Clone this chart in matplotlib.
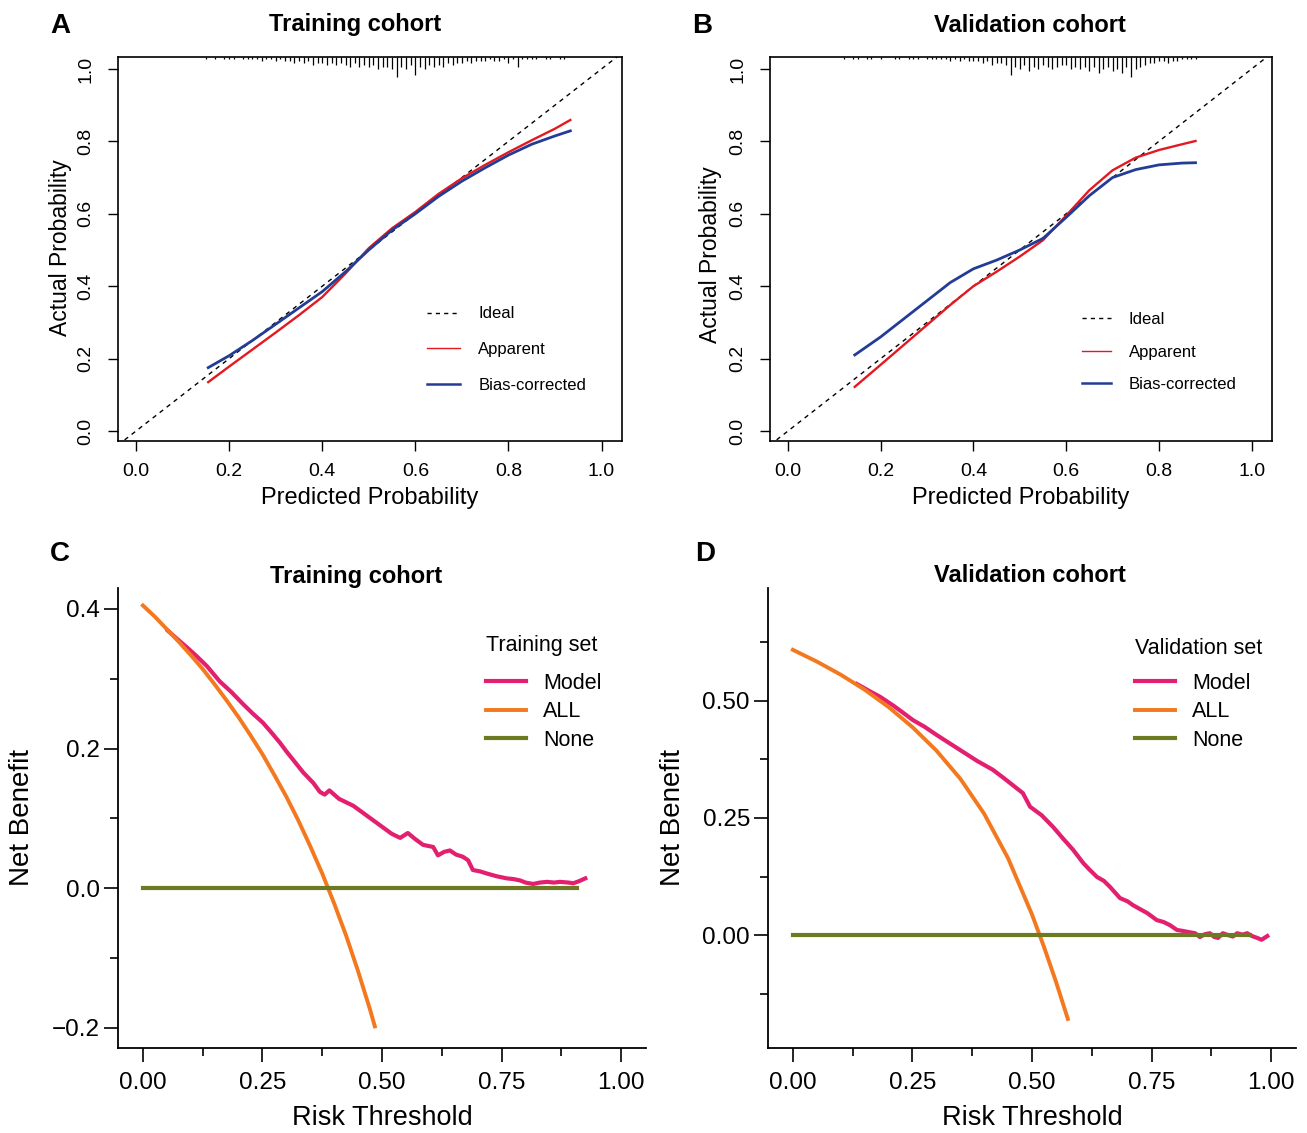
import matplotlib

matplotlib.use("Agg")
import matplotlib.pyplot as plt  # noqa: E402
import numpy as np  # noqa: E402
from matplotlib.lines import Line2D  # noqa: E402

plt.rcParams["font.family"] = ["Liberation Sans", "DejaVu Sans"]

W, H = 1307, 1133

# ---------------- calibration curves (panels A, B) ----------------
train_cal_x = [0.155, 0.20, 0.25, 0.30, 0.35, 0.40, 0.45, 0.50, 0.55, 0.60,
               0.65, 0.70, 0.75, 0.80, 0.85, 0.90, 0.933]
train_apparent = [0.135, 0.178, 0.225, 0.272, 0.320, 0.370, 0.435, 0.505, 0.560, 0.605,
                  0.655, 0.698, 0.735, 0.770, 0.803, 0.835, 0.859]
train_bias_corr = [0.175, 0.208, 0.250, 0.295, 0.340, 0.385, 0.440, 0.500, 0.555, 0.600,
                   0.648, 0.690, 0.727, 0.762, 0.792, 0.815, 0.829]

valid_cal_x = [0.144, 0.20, 0.25, 0.30, 0.35, 0.40, 0.45, 0.50, 0.55, 0.60,
               0.65, 0.70, 0.75, 0.80, 0.85, 0.879]
valid_apparent = [0.122, 0.183, 0.238, 0.293, 0.348, 0.400, 0.440, 0.482, 0.527, 0.595,
                  0.665, 0.720, 0.755, 0.776, 0.792, 0.801]
valid_bias_corr = [0.210, 0.260, 0.310, 0.360, 0.410, 0.448, 0.472, 0.500, 0.532, 0.590,
                   0.650, 0.700, 0.722, 0.735, 0.740, 0.741]

# rug of predicted values along the top (bins of 0.01)
train_rug_start = 0.15
train_rug_counts = [1, 0, 1, 0, 1, 1, 1, 0, 1, 1, 1, 1, 2, 1, 1, 2, 1, 2, 2, 3,
                    2, 3, 2, 4, 3, 3, 4, 3, 4, 3, 4, 5, 3, 5, 4, 5, 4, 6, 5, 5,
                    6, 10, 5, 6, 4, 9, 5, 6, 4, 5, 4, 5, 3, 4, 3, 3, 2, 3, 2, 2,
                    2, 1, 2, 2, 1, 3, 1, 5, 1, 1, 1, 1, 0, 1, 1, 0, 1, 1]
valid_rug_start = 0.12
valid_rug_counts = [1, 0, 1, 1, 0, 1, 1, 0, 1, 0, 0, 1, 1, 0, 1, 1, 1, 0, 1, 1,
                    1, 1, 1, 2, 1, 2, 1, 2, 2, 2, 3, 2, 4, 3, 3, 4, 9, 5, 6, 4,
                    7, 5, 6, 4, 5, 6, 5, 4, 4, 6, 5, 6, 5, 7, 5, 8, 6, 5, 7, 6,
                    8, 5, 10, 6, 5, 4, 3, 3, 2, 2, 3, 2, 2, 1, 1, 1, 1]

# ---------------- decision curves (panels C, D) ----------------
train_t_model = [0.052, 0.070, 0.092, 0.113, 0.134, 0.161, 0.185, 0.209, 0.230, 0.251,
                 0.270, 0.287, 0.300, 0.314, 0.335, 0.356, 0.370, 0.380, 0.390, 0.410,
                 0.440, 0.470, 0.500, 0.520, 0.538, 0.554, 0.570, 0.586, 0.607, 0.617,
                 0.630, 0.642, 0.655, 0.669, 0.680, 0.690, 0.705, 0.719, 0.740, 0.761,
                 0.775, 0.789, 0.800, 0.816, 0.830, 0.845, 0.860, 0.872, 0.890, 0.900,
                 0.912, 0.925]
train_nb_model = [0.369, 0.358, 0.345, 0.332, 0.318, 0.296, 0.281, 0.264, 0.250, 0.237,
                  0.222, 0.208, 0.196, 0.184, 0.166, 0.151, 0.138, 0.134, 0.140, 0.128,
                  0.118, 0.103, 0.088, 0.078, 0.072, 0.079, 0.070, 0.062, 0.059, 0.047,
                  0.052, 0.054, 0.048, 0.045, 0.040, 0.026, 0.024, 0.021, 0.017, 0.014,
                  0.013, 0.011, 0.008, 0.006, 0.008, 0.009, 0.008, 0.009, 0.008, 0.007,
                  0.010, 0.014]
train_t_all = [0.000, 0.025, 0.050, 0.075, 0.100, 0.125, 0.150, 0.175, 0.200, 0.225,
               0.250, 0.275, 0.300, 0.325, 0.350, 0.375, 0.400, 0.425, 0.450, 0.475,
               0.485]
train_nb_all = [0.405, 0.389, 0.371, 0.353, 0.334, 0.314, 0.292, 0.269, 0.245, 0.219,
                0.192, 0.162, 0.131, 0.097, 0.060, 0.021, -0.022, -0.068, -0.119, -0.174,
                -0.198]
train_t_none = [0.0, 0.908]
train_nb_none = [0.0, 0.0]

valid_t_model = [0.134, 0.160, 0.182, 0.210, 0.230, 0.251, 0.275, 0.301, 0.330, 0.356,
                 0.385, 0.418, 0.440, 0.460, 0.481, 0.496, 0.520, 0.544, 0.565, 0.586,
                 0.607, 0.620, 0.636, 0.650, 0.663, 0.684, 0.700, 0.711, 0.725, 0.741,
                 0.761, 0.775, 0.789, 0.803, 0.815, 0.830, 0.841, 0.851, 0.862, 0.872,
                 0.881, 0.889, 0.899, 0.910, 0.920, 0.929, 0.940, 0.950, 0.960, 0.971,
                 0.980, 0.992]
valid_nb_model = [0.536, 0.521, 0.509, 0.490, 0.475, 0.459, 0.445, 0.427, 0.408, 0.391,
                  0.372, 0.353, 0.336, 0.320, 0.303, 0.274, 0.256, 0.231, 0.206, 0.182,
                  0.154, 0.140, 0.124, 0.116, 0.103, 0.079, 0.072, 0.064, 0.056, 0.047,
                  0.032, 0.028, 0.021, 0.011, 0.009, 0.006, 0.004, -0.004, 0.002, 0.004,
                  -0.004, -0.006, 0.004, 0.000, -0.003, 0.004, 0.001, 0.004, -0.002, -0.006,
                  -0.010, -0.002]
valid_t_all = [0.000, 0.050, 0.100, 0.150, 0.200, 0.250, 0.300, 0.350, 0.400, 0.450,
               0.500, 0.525, 0.550, 0.575]
valid_nb_all = [0.609, 0.584, 0.556, 0.524, 0.487, 0.444, 0.394, 0.334, 0.259, 0.164,
                0.044, -0.025, -0.099, -0.179]
valid_t_none = [0.0, 0.956]
valid_nb_none = [0.0, 0.0]

RED = "#E3191F"
BLUE = "#233D96"
PINK = "#E3206F"
ORANGE = "#F4781E"
OLIVE = "#6E7A22"

fig = plt.figure(figsize=(W / 100, H / 100), dpi=100)
fig.patch.set_facecolor("white")


def rect(l, t, r, b):
    return [l / W, 1 - b / H, (r - l) / W, (b - t) / H]


def txt(x, y, s, **kw):
    kw.setdefault("ha", "center")
    fig.text(x / W, 1 - y / H, s, va="center", **kw)


def calib_panel(box, x, app, bc, rug_start, rug_counts, leg_xy, hlen, lspace):
    ax = fig.add_axes(box)
    ax.set_xlim(-0.0388, 1.044)
    ax.set_ylim(-0.0276, 1.033)
    ax.plot([-0.1, 1.1], [-0.1, 1.1], color="black", lw=1.0, ls=(0, (3.2, 3.2)))
    ax.plot(x, app, color=RED, lw=1.7)
    ax.plot(x, bc, color=BLUE, lw=2.0)

    rx = rug_start + 0.01 * np.arange(len(rug_counts))
    h = np.asarray(rug_counts, dtype=float) * 0.0055
    keep = h > 0
    top = ax.get_ylim()[1]
    ax.vlines(rx[keep], top - h[keep], top, color="black", lw=0.9)

    ticks = [0.0, 0.2, 0.4, 0.6, 0.8, 1.0]
    ax.set_xticks(ticks)
    ax.set_yticks(ticks)
    ax.xaxis.set_major_formatter("{x:.1f}")
    ax.yaxis.set_major_formatter("{x:.1f}")
    ax.tick_params(direction="out", length=7, width=1.0, labelsize=14, color="black")
    ax.tick_params(axis="x", pad=9)
    ax.tick_params(axis="y", pad=10, labelrotation=90)
    for lbl in ax.get_yticklabels():
        lbl.set_va("center")
    for sp in ax.spines.values():
        sp.set_linewidth(1.2)

    handles = [
        Line2D([], [], color="black", lw=1.0, ls=(0, (3, 3))),
        Line2D([], [], color=RED, lw=1.0),
        Line2D([], [], color=BLUE, lw=1.8),
    ]
    ax.legend(handles, ["Ideal", "Apparent", "Bias-corrected"], loc="upper left",
              bbox_to_anchor=(leg_xy[0] / W, 1 - leg_xy[1] / H),
              bbox_transform=fig.transFigure, frameon=False, fontsize=12,
              borderpad=0, handlelength=hlen, handletextpad=1.1, labelspacing=lspace)
    return ax


def dca_panel(box, ylim, ymaj, ymin, fmt, tm, nbm, ta, nba, tn, nbn, leg_xy):
    ax = fig.add_axes(box)
    ax.plot(tm, nbm, color=PINK, lw=3.0, label="Model")
    ax.plot(ta, nba, color=ORANGE, lw=2.8, label="ALL")
    ax.plot(tn, nbn, color=OLIVE, lw=3.0, label="None")
    ax.set_xlim(-0.052, 1.052)
    ax.set_ylim(*ylim)
    ax.set_xticks([0.0, 0.25, 0.5, 0.75, 1.0])
    ax.set_xticks([0.125, 0.375, 0.625, 0.875], minor=True)
    ax.set_yticks(ymaj)
    ax.set_yticks(ymin, minor=True)
    ax.xaxis.set_major_formatter("{x:.2f}")
    ax.yaxis.set_major_formatter(fmt)
    ax.tick_params(which="major", direction="out", length=10, width=1.2, labelsize=17.5)
    ax.tick_params(which="minor", direction="out", length=6, width=1.2)
    ax.tick_params(axis="x", pad=7)
    ax.tick_params(axis="y", pad=3)
    ax.spines["top"].set_visible(False)
    ax.spines["right"].set_visible(False)
    ax.spines["left"].set_linewidth(1.3)
    ax.spines["bottom"].set_linewidth(1.3)
    ax.legend(loc="upper left",
              bbox_to_anchor=(leg_xy[0] / W, 1 - leg_xy[1] / H),
              bbox_transform=fig.transFigure, frameon=False, fontsize=15.5,
              borderpad=0, handlelength=1.86, handletextpad=0.8, labelspacing=0.35)
    return ax


calib_panel(rect(118, 57, 622, 441), train_cal_x, train_apparent, train_bias_corr,
            train_rug_start, train_rug_counts, (419, 298), 1.95, 1.25)
calib_panel(rect(770, 57, 1272, 441), valid_cal_x, valid_apparent, valid_bias_corr,
            valid_rug_start, valid_rug_counts, (1074, 304), 1.7, 1.05)

dca_panel(rect(118, 588, 646, 1048), (-0.229, 0.430), [-0.2, 0.0, 0.2, 0.4],
          [-0.1, 0.1, 0.3], "{x:.1f}",
          train_t_model, train_nb_model, train_t_all, train_nb_all,
          train_t_none, train_nb_none, (475, 662))
dca_panel(rect(768, 588, 1296, 1048), (-0.241, 0.741), [0.0, 0.25, 0.5],
          [-0.125, 0.125, 0.375, 0.625], "{x:.2f}",
          valid_t_model, valid_nb_model, valid_t_all, valid_nb_all,
          valid_t_none, valid_nb_none, (1124, 662))

# legend titles of the decision curves
txt(486, 646, "Training set", fontsize=15.5, ha="left")
txt(1135, 648, "Validation set", fontsize=15.5, ha="left")

# titles, axis labels, panel letters
for x, y, s in [(355, 25, "Training cohort"), (1030, 25, "Validation cohort"),
                (356, 576, "Training cohort"), (1030, 576, "Validation cohort")]:
    txt(x, y, s, fontsize=17, fontweight="bold")
for x, y, s in [(60, 26, "A"), (702, 26, "B"), (60, 554, "C"), (705, 554, "D")]:
    txt(x, y, s, fontsize=20, fontweight="bold")

txt(370, 498, "Predicted Probability", fontsize=17)
txt(1021, 498, "Predicted Probability", fontsize=17)
txt(60, 248, "Actual Probability", fontsize=16.5, rotation=90)
txt(710, 255, "Actual Probability", fontsize=16.5, rotation=90)

txt(382, 1118, "Risk Threshold", fontsize=19.5)
txt(1032, 1118, "Risk Threshold", fontsize=19.5)
txt(22, 818, "Net Benefit", fontsize=20, rotation=90)
txt(673, 818, "Net Benefit", fontsize=20, rotation=90)

fig.savefig("out.png", dpi=100, facecolor="white")
plt.close(fig)
